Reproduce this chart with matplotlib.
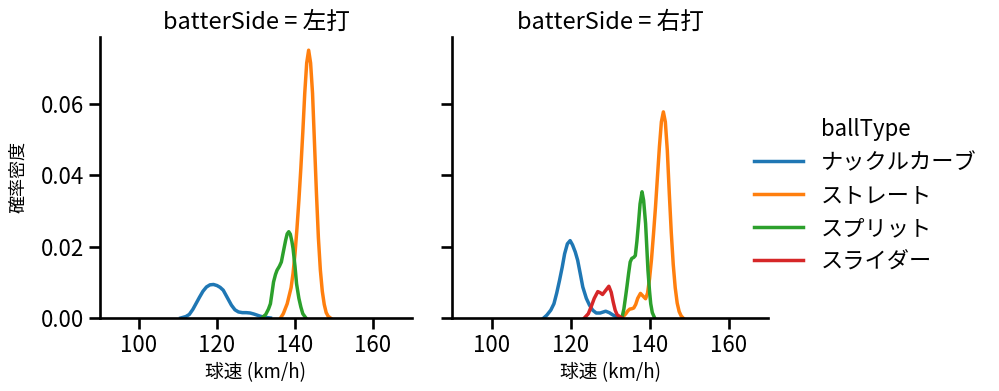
import matplotlib
matplotlib.use("Agg")
import matplotlib.pyplot as plt
from matplotlib.lines import Line2D

plt.rcParams['font.family'] = ['Noto Sans CJK JP', 'DejaVu Sans']

# KDE curves (x = 球速 km/h, y = density)
ball_types = ["ナックルカーブ", "ストレート", "スプリット", "スライダー"]
colors = ["#1f77b4", "#ff7f0e", "#2ca02c", "#d62728"]
panels = ["左打", "右打"]

# 左打
left_curve_x = [110.7, 112, 112.9, 113.8, 114.6, 115.5, 116.4, 117.3, 118.2, 119.1, 120, 120.8,
                121.6, 122.6, 123.7, 124.6, 125.5, 126.5, 127.5, 128.5, 129.5, 130.3, 131.1, 132.3, 133.7]
left_curve_y = [0, 0.0004, 0.0010, 0.0024, 0.0040, 0.0058, 0.0075, 0.0087, 0.0093, 0.0094, 0.0091, 0.0086,
                0.0078, 0.0058, 0.0036, 0.0023, 0.0017, 0.0015, 0.0015, 0.0014, 0.0011, 0.0008, 0.0005, 0.0002, 0]
left_straight_x = [136.3, 137, 138, 139, 139.5, 140, 140.5, 141, 141.5, 142, 142.5, 143, 143.5,
                   144, 144.5, 145, 145.5, 146, 146.5, 147, 147.5, 148, 148.5, 149.1]
left_straight_y = [0, 0.0012, 0.0040, 0.0085, 0.0125, 0.0180, 0.0250, 0.0330, 0.0420, 0.0520, 0.0630, 0.0715, 0.0751,
                   0.0715, 0.0630, 0.0490, 0.0350, 0.0225, 0.0135, 0.0075, 0.0038, 0.0015, 0.0005, 0]
left_split_x = [131.5, 132.5, 133.2, 133.7, 134.1, 134.5, 135, 135.4, 136, 136.5, 137, 137.6, 138, 138.4,
                138.8, 139.2, 139.5, 140, 140.4, 141, 141.5, 142, 142.8]
left_split_y = [0, 0.0010, 0.0025, 0.0040, 0.0070, 0.0101, 0.0122, 0.0134, 0.0145, 0.0157, 0.0185, 0.0218, 0.0236, 0.0242,
                0.0235, 0.0215, 0.0195, 0.0145, 0.0096, 0.0055, 0.0031, 0.0012, 0]

# 右打
right_curve_x = [113.2, 114, 115, 115.8, 116.5, 117.2, 117.9, 118.5, 119.2, 119.9, 120.5, 121.2, 121.8,
                 122.5, 123.1, 124, 124.8, 125.6, 126.5, 127.5, 128.9, 129.8, 130.8, 132, 133]
right_curve_y = [0, 0.0008, 0.0022, 0.0040, 0.0070, 0.0105, 0.0143, 0.0180, 0.0208, 0.0217, 0.0205, 0.0185, 0.0162,
                 0.0122, 0.0087, 0.0055, 0.0036, 0.0022, 0.0014, 0.0014, 0.0019, 0.0015, 0.0008, 0.0002, 0]
right_straight_x = [133, 134, 134.5, 135, 135.5, 136, 136.5, 137, 137.7, 138.3, 139, 139.5, 140, 140.5, 141,
                    141.5, 142, 142.5, 143, 143.5, 144, 144.5, 145, 145.5, 146, 146.5, 147, 147.5, 148, 148.5]
right_straight_y = [0, 0.0012, 0.0020, 0.0025, 0.0026, 0.0028, 0.0038, 0.0055, 0.0069, 0.0062, 0.0054, 0.0070, 0.0110,
                    0.0165, 0.0235, 0.0310, 0.0395, 0.0480, 0.0550, 0.0578, 0.0550, 0.0470, 0.0350, 0.0240, 0.0150,
                    0.0085, 0.0042, 0.0018, 0.0006, 0]
right_split_x = [133, 133.5, 134, 134.3, 134.7, 135.1, 135.5, 136, 136.4, 136.8, 137.2, 137.6, 138.1, 138.5,
                 139, 139.3, 139.6, 140, 140.3, 140.7, 141.3]
right_split_y = [0, 0.0025, 0.0065, 0.0090, 0.0125, 0.0157, 0.0167, 0.0170, 0.0175, 0.0215, 0.0265, 0.0320, 0.0354,
                 0.0330, 0.0265, 0.0200, 0.0134, 0.0075, 0.0040, 0.0015, 0]
right_slider_x = [123.5, 124.5, 125.2, 126, 126.9, 127.5, 128.1, 128.8, 129.7, 130.3, 130.8, 131.3, 131.8, 133]
right_slider_y = [0, 0.0012, 0.0031, 0.0055, 0.0074, 0.0071, 0.0066, 0.0076, 0.0089, 0.0072, 0.0045, 0.0022, 0.0009, 0]

curves = {
    "左打": [(left_curve_x, left_curve_y, 0), (left_straight_x, left_straight_y, 1),
             (left_split_x, left_split_y, 2)],
    "右打": [(right_curve_x, right_curve_y, 0), (right_straight_x, right_straight_y, 1),
             (right_split_x, right_split_y, 2), (right_slider_x, right_slider_y, 3)],
}

fig = plt.figure(figsize=(9.99, 3.91), dpi=100)
ax_l = fig.add_axes([0.1001, 0.1867, 0.3123, 0.7187])
ax_r = fig.add_axes([0.4525, 0.1867, 0.3163, 0.7187], sharey=ax_l)

for ax, side in zip([ax_l, ax_r], panels):
    for xs, ys, k in curves[side]:
        ax.plot(xs, ys, color=colors[k], lw=2.5)
    ax.set_xlim(90, 170)
    ax.set_ylim(0, 0.0788)
    ax.set_xticks([100, 120, 140, 160])
    ax.set_yticks([0.0, 0.02, 0.04, 0.06])
    ax.spines["top"].set_visible(False)
    ax.spines["right"].set_visible(False)
    for s in ["left", "bottom"]:
        ax.spines[s].set_linewidth(1.9)
    ax.tick_params(width=1.9, length=8, labelsize=16)
    ax.set_title(f"batterSide = {side}", fontsize=17)
    ax.set_xlabel("球速 (km/h)", fontsize=13.5)

ax_l.yaxis.set_major_formatter(matplotlib.ticker.FormatStrFormatter("%.2f"))
ax_l.set_ylabel("確率密度", fontsize=13, labelpad=10)
ax_r.tick_params(labelleft=False)

handles = [Line2D([], [], color=c, lw=2.5) for c in colors]
fig.legend(handles, ball_types, title="ballType", loc="center left",
           bbox_to_anchor=(0.735, 0.5), frameon=False, fontsize=16, title_fontsize=16,
           handlelength=2.2, labelspacing=0.45)

fig.savefig("out.png", dpi=100)
